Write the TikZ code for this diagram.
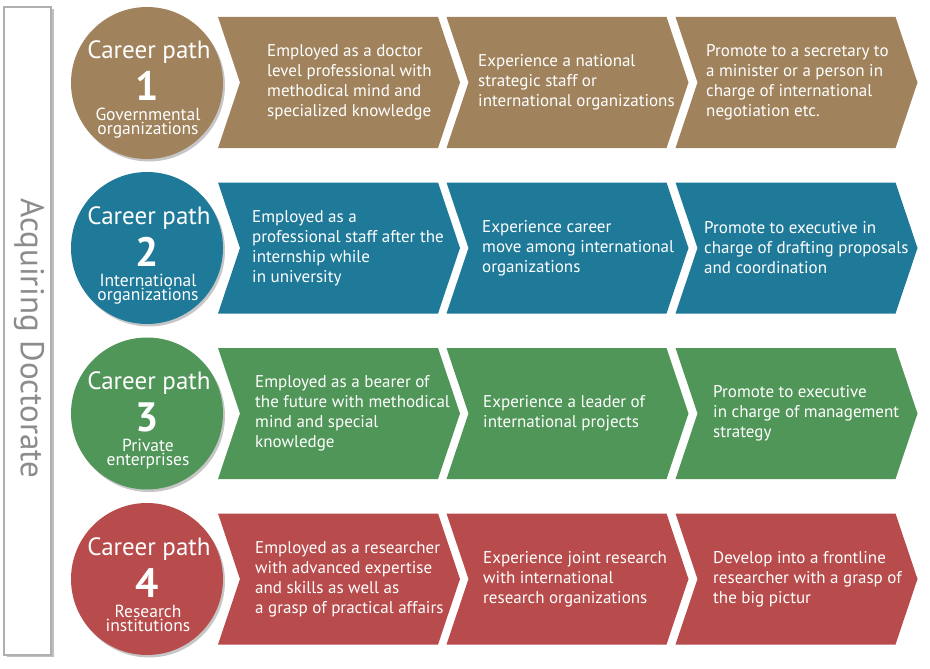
\documentclass[tikz,border=0pt]{standalone}
\usepackage{fontspec}
\setmainfont{PT Sans}
\usepackage{tikz}
\usetikzlibrary{shapes.geometric,shadows,positioning}
\definecolor{pathbrown}{HTML}{A0835D}
\definecolor{pathteal}{HTML}{1F7A99}
\definecolor{pathgreen}{HTML}{519659}
\definecolor{pathred}{HTML}{B84B4B}
\definecolor{sidegray}{HTML}{8C8C8C}
\tikzset{
  chev/.pic={\path[pic actions] (-121,-65.5) -- (99,-65.5) -- (121,0) -- (99,65.5) -- (-121,65.5) -- (-99,0) -- cycle;},
  chevshadow/.style={drop shadow={shadow xshift=2pt,shadow yshift=-2.5pt,opacity=.45}},
  pathcircle/.style={circle,minimum size=152pt,inner sep=0pt,drop shadow={shadow xshift=2pt,shadow yshift=-2.5pt,opacity=.45}},
  pathtitle/.style={text=white,anchor=base,inner sep=0pt,font=\fontsize{25}{25}\selectfont},
  pathnum/.style={text=white,anchor=base,inner sep=0pt,font=\fontsize{41}{41}\selectfont\bfseries},
  pathsub/.style={text=white,anchor=base,inner sep=0pt,align=center,font=\fontsize{17.5}{14}\selectfont},
  steptext/.style={text=white,anchor=west,inner sep=0pt,align=left,font=\fontsize{17}{20}\selectfont},
}
\begin{document}
\begin{tikzpicture}[x=1pt,y=-1pt]
%
\useasboundingbox (0,0) rectangle (930,669);
%
% side box
\node[draw=sidegray!70,line width=1.2pt,fill=white,minimum width=47pt,minimum height=648pt,inner sep=0pt,
  drop shadow={shadow xshift=2.5pt,shadow yshift=-2pt,opacity=.5}] (side) at (27.5,331) {};
\node[rotate=-90,text=sidegray,font=\fontsize{33}{33}\selectfont] (sidetext) at (29,338.5) {Acquiring Doctorate};
%
% career path 1
\node[pathcircle,fill=pathbrown] (p1) at (147,83) {};
\node[pathtitle] (p1t) at (149,59) {Career path};
\node[pathnum] (p1n) at (147,101) {1};
\node[pathsub] (p1s) at (148,135) {Governmental\\organizations};
\pic[fill=pathbrown,chevshadow] at (339,82.5) {chev};
\pic[fill=pathbrown,chevshadow] at (567.5,82.5) {chev};
\pic[fill=pathbrown,chevshadow] at (796.5,82.5) {chev};
\node[steptext] (s11) at (267,82.5) {Employed as a doctor\\level professional with\\methodical mind and\\specialized knowledge};
\node[steptext] (s12) at (478,82.5) {Experience a national\\strategic staff or\\international organizations};
\node[steptext] (s13) at (706,82.5) {Promote to a secretary to\\a minister or a person in\\charge of international\\negotiation etc.};
%
% career path 2
\node[pathcircle,fill=pathteal] (p2) at (147,248) {};
\node[pathtitle] (p2t) at (149,224) {Career path};
\node[pathnum] (p2n) at (147,266) {2};
\node[pathsub] (p2s) at (148,300) {International\\organizations};
\pic[fill=pathteal,chevshadow] at (339,248) {chev};
\pic[fill=pathteal,chevshadow] at (567.5,248) {chev};
\pic[fill=pathteal,chevshadow] at (796.5,248) {chev};
\node[steptext] (s21) at (252,248) {Employed as a\\professional staff after the\\internship while\\in university};
\node[steptext] (s22) at (482,248) {Experience career\\move among international\\organizations};
\node[steptext] (s23) at (704,248) {Promote to executive in\\charge of drafting proposals\\and coordination};
%
% career path 3
\node[pathcircle,fill=pathgreen] (p3) at (147,413.5) {};
\node[pathtitle] (p3t) at (149,389.5) {Career path};
\node[pathnum] (p3n) at (147,431.5) {3};
\node[pathsub] (p3s) at (148,465.5) {Private\\enterprises};
\pic[fill=pathgreen,chevshadow] at (339,413.5) {chev};
\pic[fill=pathgreen,chevshadow] at (567.5,413.5) {chev};
\pic[fill=pathgreen,chevshadow] at (796.5,413.5) {chev};
\node[steptext] (s31) at (255,413.5) {Employed as a bearer of\\the future with methodical\\mind and special\\knowledge};
\node[steptext] (s32) at (483,413.5) {Experience a leader of\\international projects};
\node[steptext] (s33) at (713,413.5) {Promote to executive\\in charge of management\\strategy};
%
% career path 4
\node[pathcircle,fill=pathred] (p4) at (147,579) {};
\node[pathtitle] (p4t) at (149,555) {Career path};
\node[pathnum] (p4n) at (147,597) {4};
\node[pathsub] (p4s) at (148,631) {Research\\institutions};
\pic[fill=pathred,chevshadow] at (339,579) {chev};
\pic[fill=pathred,chevshadow] at (567.5,579) {chev};
\pic[fill=pathred,chevshadow] at (796.5,579) {chev};
\node[steptext] (s41) at (255,579) {Employed as a researcher\\with advanced expertise\\and skills as well as\\a grasp of practical affairs};
\node[steptext] (s42) at (483,579) {Experience joint research\\with international\\research organizations};
\node[steptext] (s43) at (713,579) {Develop into a frontline\\researcher with a grasp of\\the big pictur};
%
\end{tikzpicture}
\end{document}
